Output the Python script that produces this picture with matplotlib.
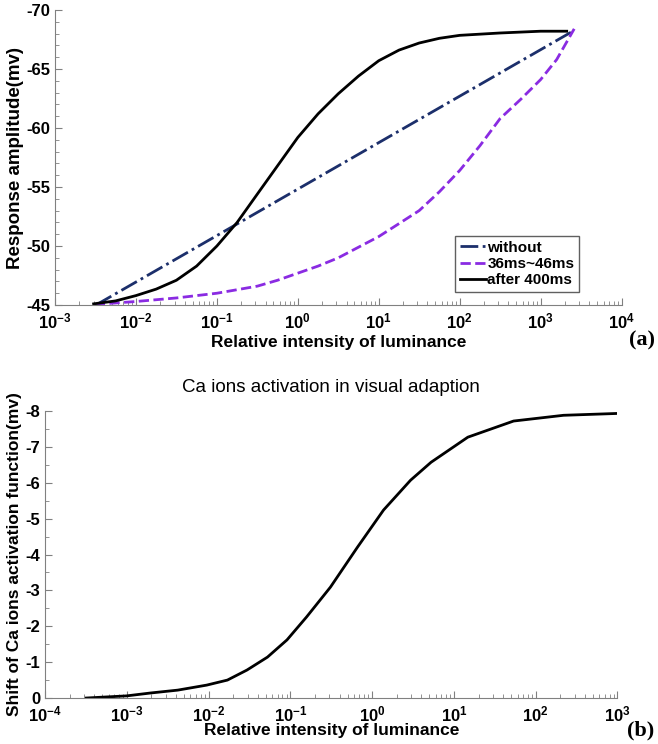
import numpy as np
import matplotlib
matplotlib.use('Agg')
import matplotlib.pyplot as plt
from matplotlib.ticker import LogLocator, MultipleLocator, NullFormatter, FuncFormatter

plt.rcParams['font.family'] = ['Liberation Sans', 'DejaVu Sans']
plt.rcParams['axes.unicode_minus'] = False
plt.rcParams['mathtext.fontset'] = 'custom'
plt.rcParams['mathtext.rm'] = 'Liberation Sans'
plt.rcParams['mathtext.bf'] = 'Liberation Sans:bold'

# panel (a): response amplitude vs relative luminance
without_x = [3.2e-3, 2.5e3]
without_y = [-45.0, -68.2]

mid_x = [3.2e-3, 0.00316, 0.01, 0.0316, 0.1, 0.178, 0.316, 0.562, 1.0, 1.78, 3.16,
         5.62, 10.0, 17.8, 31.6, 56.2, 100.0, 178.0, 316.0, 562.0, 1000.0, 1580.0, 2600.0]
mid_y = [-45.0, -45.05, -45.3, -45.6, -46.0, -46.3, -46.6, -47.1, -47.7, -48.3, -49.0,
         -49.9, -50.8, -51.9, -53.0, -54.6, -56.4, -58.5, -60.8, -62.4, -64.1, -65.8, -68.4]

late_x = [3.0e-3, 0.0056, 0.01, 0.0178, 0.0316, 0.0562, 0.1, 0.178, 0.316, 0.562,
          1.0, 1.78, 3.16, 5.62, 10.0, 17.8, 31.6, 56.2, 100.0, 316.0, 1000.0, 2100.0]
late_y = [-45.1, -45.35, -45.8, -46.35, -47.1, -48.3, -50.0, -52.0, -54.4, -56.8,
          -59.2, -61.2, -62.9, -64.4, -65.7, -66.6, -67.2, -67.6, -67.85, -68.05, -68.2, -68.2]

# panel (b): shift of Ca activation function
ca_x = [3.2e-4, 1.0e-3, 1.95e-3, 4.2e-3, 9.5e-3, 0.017, 0.0295, 0.0525, 0.091, 0.158,
        0.309, 0.66, 1.38, 2.95, 5.25, 14.8, 53.7, 219.0, 955.0]
ca_y = [0.0, -0.06, -0.14, -0.22, -0.36, -0.5, -0.78, -1.14, -1.62, -2.26, -3.09,
        -4.2, -5.24, -6.07, -6.57, -7.27, -7.72, -7.88, -7.93]

axcol = '#808080'


def pow10(v, pos):
    return r'$\mathbf{10^{%d}}$' % int(round(np.log10(v)))


def style(ax):
    ax.spines['top'].set_visible(False)
    ax.spines['right'].set_visible(False)
    for s in ('left', 'bottom'):
        ax.spines[s].set_color(axcol)
    ax.set_xscale('log')
    ax.xaxis.set_major_locator(LogLocator(base=10, numticks=20))
    ax.xaxis.set_major_formatter(FuncFormatter(pow10))
    ax.xaxis.set_minor_locator(LogLocator(base=10, subs=np.arange(2, 10), numticks=20))
    ax.xaxis.set_minor_formatter(NullFormatter())
    ax.tick_params(which='both', direction='in', color=axcol, labelsize=12)
    ax.tick_params(axis='x', pad=5)
    ax.tick_params(which='major', length=5)
    ax.tick_params(which='minor', length=3)
    for lab in ax.get_yticklabels():
        lab.set_fontweight('bold')


fig = plt.figure(figsize=(6.58, 7.44), dpi=100)

ax1 = fig.add_axes([0.0836, 0.590, 0.861, 0.3966])
ax1.plot(without_x, without_y, color='#1c2f6b', lw=2, ls='-.', label='without')
ax1.plot(mid_x, mid_y, color='#8a2be2', lw=2, ls='--', label='36ms~46ms')
ax1.plot(late_x, late_y, color='black', lw=2, label='after 400ms')
ax1.set_xlim(1e-3, 1e4)
ax1.set_ylim(-45, -70)
ax1.yaxis.set_major_locator(MultipleLocator(5))
ax1.yaxis.set_minor_locator(MultipleLocator(1))
style(ax1)
ax1.set_xlabel('Relative intensity of luminance', fontsize=12.5, fontweight='bold', labelpad=2)
ax1.set_ylabel('Response amplitude(mv)', fontsize=13.5, fontweight='bold')
ax1.yaxis.set_label_coords(-0.054, 0.5)
leg = ax1.legend(loc='lower right', bbox_to_anchor=(0.925, 0.045), prop={'weight': 'bold', 'size': 11},
                 handlelength=1.7, handletextpad=0.1, borderpad=0.3, labelspacing=0.15,
                 borderaxespad=0, fancybox=False, framealpha=1)
leg.get_frame().set_edgecolor('#606060')
fig.text(0.995, 0.543, '(a)', family=['Liberation Serif', 'DejaVu Serif'],
         fontsize=16, fontweight='bold', ha='right', va='center')

ax2 = fig.add_axes([0.0684, 0.0618, 0.870, 0.3858])
ax2.plot(ca_x, ca_y, color='black', lw=2)
ax2.set_xlim(1e-4, 1e3)
ax2.set_ylim(0, -8)
ax2.yaxis.set_major_locator(MultipleLocator(1))
ax2.yaxis.set_minor_locator(MultipleLocator(0.5))
style(ax2)
ax2.set_title('Ca ions activation in visual adaption', fontsize=13.5, pad=14)
ax2.set_xlabel('Relative intensity of luminance', fontsize=12.5, fontweight='bold', labelpad=-1)
ax2.set_ylabel('Shift of Ca ions activation function(mv)', fontsize=12.5, fontweight='bold')
ax2.yaxis.set_label_coords(-0.040, 0.5)
fig.text(0.995, 0.018, '(b)', family=['Liberation Serif', 'DejaVu Serif'],
         fontsize=16, fontweight='bold', ha='right', va='center')

fig.savefig('out.png', dpi=100)
